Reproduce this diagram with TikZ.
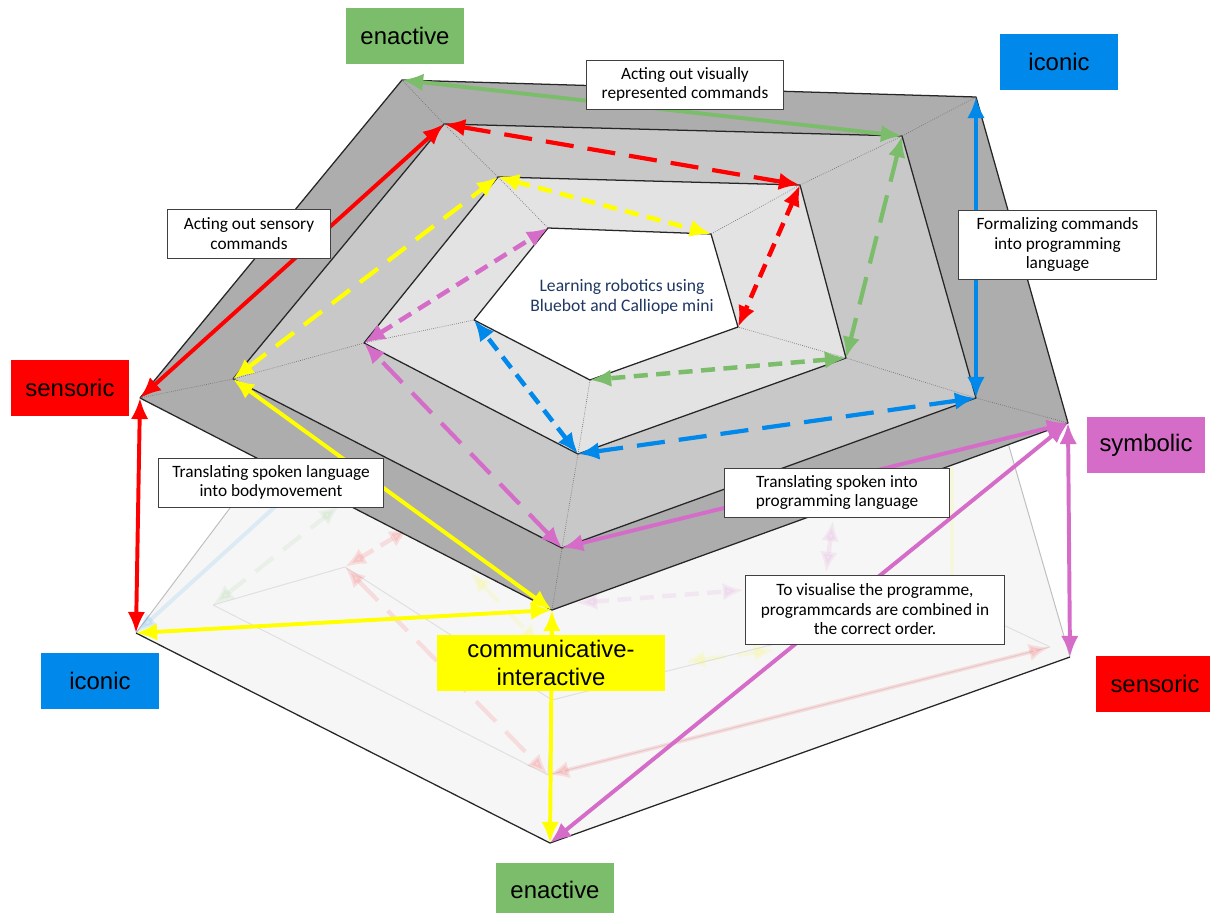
\documentclass[tikz,border=0pt]{standalone}
\usepackage{fontspec}
\setmainfont{Carlito}
\newfontfamily\catfont{Liberation Sans}
\usetikzlibrary{positioning,shapes,calc,arrows.meta}

\definecolor{ringout}{HTML}{ADADAD}
\definecolor{ringmid}{HTML}{C8C8C8}
\definecolor{ringin}{HTML}{E3E3E3}
\definecolor{floorcol}{HTML}{F6F6F6}
\definecolor{redcol}{HTML}{FF0000}
\definecolor{greencol}{HTML}{7BBD6A}
\definecolor{bluecol}{HTML}{0088EA}
\definecolor{yellowcol}{HTML}{FFFF00}
\definecolor{pinkcol}{HTML}{D46CC8}
\definecolor{navycol}{HTML}{1F3864}

\tikzset{
  catbox/.style={fill=#1, minimum width=2.96cm, minimum height=1.375cm, inner sep=0pt,
    align=center, font=\catfont\fontsize{17}{20}\selectfont},
  notebox/.style={draw=black!75, line width=0.7pt, fill=white, inner sep=0pt,
    align=center, font=\fontsize{12.3}{13.9}\selectfont},
  solidarr/.style={<->, line width=2.8pt, draw=#1},
  longdash/.style={<->, line width=3pt, draw=#1, dash pattern=on 20pt off 10pt},
  middash/.style={<->, line width=3pt, draw=#1, dash pattern=on 16pt off 9pt},
  shortdash/.style={<->, line width=3.2pt, draw=#1, dash pattern=on 10pt off 6pt},
  rimline/.style={draw=black!85, line width=0.9pt, line join=bevel},
  radial/.style={densely dotted, draw=black!55, line width=0.5pt},
  faint/.style={opacity=0.1},
}

\begin{document}
\begin{tikzpicture}[>={Latex[length=15pt,width=12.5pt]}, x=0.025cm, y=-0.025cm]
  \useasboundingbox (0,0) rectangle (1210,913);
  %% corner points of the upper frame
  % Level 0
  \coordinate (E0) at (402,80);
  \coordinate (I0) at (976,97);
  \coordinate (S0) at (1068,423);
  \coordinate (C0) at (552,610);
  \coordinate (Se0) at (140,398);
  % Level 1
  \coordinate (E1) at (444,124);
  \coordinate (I1) at (902,136);
  \coordinate (S1) at (976,398);
  \coordinate (C1) at (562,548);
  \coordinate (Se1) at (233,379);
  % Level 2
  \coordinate (E2) at (498,177);
  \coordinate (I2) at (800,185);
  \coordinate (S2) at (846,358);
  \coordinate (C2) at (578,454);
  \coordinate (Se2) at (364,343);
  % Level 3
  \coordinate (E3) at (548,228);
  \coordinate (I3) at (711,234);
  \coordinate (S3) at (738,327);
  \coordinate (C3) at (590,380);
  \coordinate (Se3) at (474,320);
  %% corner points of the lower frame
  \coordinate (LI) at (136,633);
  \coordinate (LE) at (550,843);
  \coordinate (LSe) at (1070,657);
  \coordinate (LTL) at (330,375);
  \coordinate (LTR) at (984,360);
  \coordinate (LI1) at (213,605);
  \coordinate (LE1) at (548,775);
  \coordinate (LSe1) at (1050,647);
  \coordinate (LI2) at (345,567);
  \coordinate (LE2) at (552,700);
  \coordinate (LSe2) at (950,600);
  % free ends of the faint arrows
  \coordinate (fB) at (310,475);
  \coordinate (fG) at (340,505);
  \coordinate (fR) at (410,528);
  \coordinate (fY1) at (470,572);
  \coordinate (fY2) at (540,645);
  \coordinate (fY3) at (684,662);
  \coordinate (fY4) at (775,650);
  \coordinate (fP1) at (576,603);
  \coordinate (fP2) at (744,590);
  \coordinate (fP3) at (833,520);
  \coordinate (fP4) at (826,573);
  \coordinate (fV1) at (952,467);
  \coordinate (fV2) at (952,577);

  %% lower frame
  \fill[floorcol] (LI) -- (LTL) -- (LTR) -- (LSe) -- (LE) -- cycle;
  \draw[black!25, line width=0.7pt] (LI) -- (LTL) (LTR) -- (LSe);
  \draw[rimline] (LI) -- (LE) -- (LSe);
  \draw[black!12, line width=0.7pt] (LI1) -- (LE1) -- (LSe1) (LI2) -- (LE2) -- (LSe2)
    (LI1) -- (LI2) (LE1) -- (LE2) (LSe1) -- (LSe2);
  \begin{scope}[faint]
    \draw[solidarr=bluecol] (LI) -- (fB);
    \draw[middash=greencol] (LI1) -- (fG);
    \draw[longdash=redcol] (LI2) -- (LE1);
    \draw[shortdash=redcol] (LI2) -- (fR);
    \draw[solidarr=redcol] (LE1) -- (LSe1);
    \draw[middash=yellowcol] (fY1) -- (fY2);
    \draw[middash=yellowcol] (fY3) -- (fY4);
    \draw[shortdash=pinkcol] (fP1) -- (fP2);
    \draw[shortdash=pinkcol] (fP3) -- (fP4);
    \draw[yellowcol, line width=2.8pt] (fV1) -- (fV2);
  \end{scope}

  %% upper frame
  \fill[ringout] (E0) -- (I0) -- (S0) -- (C0) -- (Se0) -- cycle;
  \fill[ringmid] (E1) -- (I1) -- (S1) -- (C1) -- (Se1) -- cycle;
  \fill[ringin] (E2) -- (I2) -- (S2) -- (C2) -- (Se2) -- cycle;
  \fill[white] (E3) -- (I3) -- (S3) -- (C3) -- (Se3) -- cycle;
  \foreach \l in {0,1,2,3}
    \draw[rimline] (E\l) -- (I\l) -- (S\l) -- (C\l) -- (Se\l) -- cycle;
  \foreach \a in {E,I,S,C,Se}
    \draw[radial] (\a0) -- (\a1) -- (\a2) -- (\a3);

  %% outer ring
  % Edge: E0 -> I1
  \draw[solidarr=greencol] (E0) -- (I1);
  % Edge: Se0 -> E1
  \draw[solidarr=redcol] (Se0) -- (E1);
  % Edge: I0 -> S1
  \draw[solidarr=bluecol] (I0) -- (S1);
  % Edge: S0 -> C1
  \draw[solidarr=pinkcol] (S0) -- (C1);
  % Edge: C0 -> Se1
  \draw[solidarr=yellowcol] (C0) -- (Se1);
  %% middle ring
  % Edge: E1 -> I2
  \draw[longdash=redcol] (E1) -- (I2);
  % Edge: I1 -> S2
  \draw[longdash=greencol] (I1) -- (S2);
  % Edge: S1 -> C2
  \draw[longdash=bluecol] (S1) -- (C2);
  % Edge: C1 -> Se2
  \draw[longdash=pinkcol] (C1) -- (Se2);
  % Edge: Se1 -> E2
  \draw[middash=yellowcol] (Se1) -- (E2);
  %% inner ring
  % Edge: E2 -> I3
  \draw[shortdash=yellowcol] (E2) -- (I3);
  % Edge: I2 -> S3
  \draw[shortdash=redcol] (I2) -- (S3);
  % Edge: S2 -> C3
  \draw[shortdash=greencol] (S2) -- (C3);
  % Edge: C2 -> Se3
  \draw[shortdash=bluecol] (C2) -- (Se3);
  % Edge: Se2 -> E3
  \draw[shortdash=pinkcol] (Se2) -- (E3);
  %% between the frames
  % Edge: Se0 -> LI
  \draw[solidarr=redcol] (Se0) -- (LI);
  % Edge: C0 -> LI
  \draw[solidarr=yellowcol] (C0) -- (LI);
  % Edge: C0 -> LE
  \draw[solidarr=yellowcol] (C0) -- (LE);
  % Edge: S0 -> LE
  \draw[solidarr=pinkcol] (S0) -- (LE);
  % Edge: S0 -> LSe
  \draw[solidarr=pinkcol] (S0) -- (LSe);

  % Node: centre
  \node[align=center, text=navycol, font=\fontsize{12.5}{14}\selectfont] (centre) at (622,297)
    {Learning robotics using\\Bluebot and Calliope mini};
  % Node: dimensions
  \node[catbox=greencol] (enactTop) at (405,36) {enactive};
  \node[catbox=bluecol] (iconTop) at (1059,62) {iconic};
  \node[catbox=redcol] (sensLeft) at (70,388) {sensoric};
  \node[catbox=pinkcol] (symbRight) at (1146,445) {symbolic};
  \node[catbox=bluecol] (iconLow) at (100,681) {iconic};
  \node[catbox=yellowcol, minimum width=5.7cm] (commLow) at (551,663) {communicative-\\interactive};
  \node[catbox=greencol] (enactLow) at (555,890) {enactive};
  \node[catbox=redcol] (sensLow) at (1155,684) {sensoric};
  % Node: notes
  \node[notebox, minimum width=4.9cm, minimum height=1.225cm] (noteVisual) at (685,84.5)
    {Acting out visually\\represented commands};
  \node[notebox, minimum width=4.05cm, minimum height=1.225cm] (noteSensory) at (249,233.5)
    {Acting out sensory\\commands};
  \node[notebox, minimum width=4.925cm, minimum height=1.725cm] (noteFormal) at (1057.5,244.5)
    {Formalizing commands\\into programming\\language};
  \node[notebox, minimum width=5.6cm, minimum height=1.225cm] (noteBody) at (271,482.5)
    {Translating spoken language\\into bodymovement};
  \node[notebox, minimum width=5.6cm, minimum height=1.225cm] (noteProg) at (837,492.5)
    {Translating spoken into\\programming language};
  \node[notebox, minimum width=6.45cm, minimum height=1.725cm] (noteCards) at (875,609.5)
    {To visualise the programme,\\programmcards are combined in\\the correct order.};
\end{tikzpicture}
\end{document}
